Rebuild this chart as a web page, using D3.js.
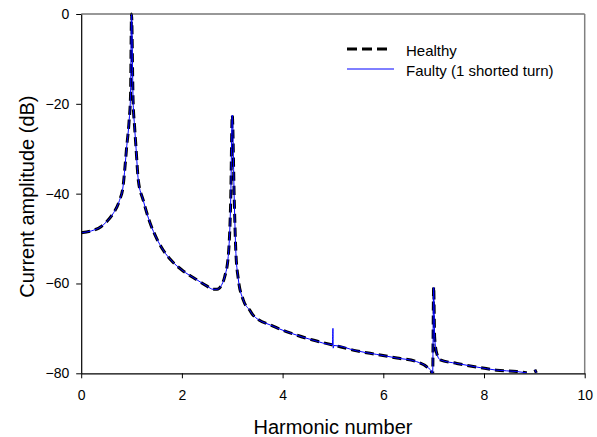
<!DOCTYPE html>
<html>
<head>
<meta charset="utf-8">
<script src="https://cdn.jsdelivr.net/npm/d3@7"></script>
<style>
  body { margin: 0; background: #fff; }
  svg { font-family: "Liberation Sans", Arial, sans-serif; }
</style>
</head>
<body>
<svg id="chart" width="597" height="437"></svg>
<script>
// harmonic number vs current amplitude (dB)
let healthyX  = [0, 0.2, 0.4, 0.5, 0.63, 0.76, 0.83, 0.87, 0.9, 0.95, 0.98, 1.0, 1.03, 1.06, 1.09, 1.134, 1.23, 1.37, 1.5, 1.63, 1.8, 2.0, 2.3, 2.5, 2.62, 2.7, 2.78, 2.85, 2.92, 2.97, 3.0, 3.04, 3.07, 3.12, 3.22, 3.35, 3.41, 3.81, 4.2, 4.6, 5.0, 5.47, 5.87, 6.27, 6.66, 6.87, 6.95, 6.98, 7.0, 7.02, 7.06, 7.13, 7.46, 7.85, 8.25, 8.65, 8.85, null, 9.01, 9.04]
let healthyDb = [-48.7, -48.3, -47.3, -46.3, -44.5, -41.5, -38.5, -34, -30, -24, -18, 0, -19, -25, -30, -37, -41.4, -46.6, -50, -52.6, -55, -57, -59.2, -60.6, -61.3, -61.3, -60.5, -58.5, -54, -41, -22.5, -41.4, -52.6, -59, -63.7, -66, -67, -69.5, -71.2, -72.6, -73.7, -75, -75.8, -76.6, -77.4, -78.6, -79.5, -80.5, -60.7, -72, -75.5, -77, -77.8, -78.6, -79.3, -79.6, -79.9, null, -79.2, -79.9]

let faultyX  = [0, 0.2, 0.4, 0.5, 0.63, 0.76, 0.83, 0.87, 0.9, 0.95, 0.98, 1.0, 1.03, 1.06, 1.09, 1.134, 1.23, 1.37, 1.5, 1.63, 1.8, 2.0, 2.3, 2.5, 2.62, 2.7, 2.78, 2.85, 2.92, 2.97, 3.0, 3.04, 3.07, 3.12, 3.22, 3.35, 3.41, 3.81, 4.2, 4.6, 4.99, 5.0, 5.005, 5.02, 5.47, 5.87, 6.27, 6.66, 6.87, 6.95, 6.98, 7.0, 7.02, 7.06, 7.13, 7.46, 7.85, 8.25, 8.65, 8.85, null, 9.01, 9.04]
let faultyDb = [-48.7, -48.3, -47.3, -46.3, -44.5, -41.5, -38.5, -34, -30, -24, -18, 0, -19, -25, -30, -37, -41.4, -46.6, -50, -52.6, -55, -57, -59.2, -60.6, -61.3, -61.3, -60.5, -58.5, -54, -41, -22.5, -41.4, -52.6, -59, -63.7, -66, -67, -69.5, -71.2, -72.6, -73.6, -70, -74.4, -73.8, -75, -75.8, -76.6, -77.4, -78.6, -79.5, -80.3, -60.9, -72, -75.5, -77, -77.8, -78.6, -79.3, -79.6, -79.9, null, -79.2, -79.9]

let xTicks = [0, 2, 4, 6, 8, 10]
let yTicks = [0, -20, -40, -60, -80]

const svg = d3.select('#chart')
let margins = {top: 14, right: 12.3, bottom: 63.7, left: 81.2}
const width = 597 - margins.left - margins.right
const height = 437 - margins.top - margins.bottom

const xScale = d3.scaleLinear().domain([0, 10]).range([0, width])
const yScale = d3.scaleLinear().domain([-80, 0]).range([height, 0])

const g = svg.append('g').attr('transform', `translate(${margins.left},${margins.top})`)

g.append('clipPath').attr('id', 'plotClip')
 .append('rect').attr('x', 0).attr('y', -2).attr('width', width).attr('height', height + 2)

function toPoints(xs, ys){
    return xs.map((x, i) => ({x: x, y: ys[i]}))
}

const line = d3.line()
    .defined(d => d.x !== null)
    .x(d => xScale(d.x))
    .y(d => yScale(d.y))
    .curve(d3.curveMonotoneX)

const curves = g.append('g').attr('clip-path', 'url(#plotClip)')

curves.append('path')
      .datum(toPoints(healthyX, healthyDb))
      .attr('d', line)
      .attr('fill', 'none')
      .attr('stroke', '#000')
      .attr('stroke-width', 3)
      .attr('stroke-dasharray', '9,5')

curves.append('path')
      .datum(toPoints(faultyX, faultyDb))
      .attr('d', line)
      .attr('fill', 'none')
      .attr('stroke', '#0000ff')
      .attr('stroke-width', 1)

// frame: top and right
g.append('line').attr('x1', 0).attr('x2', width).attr('y1', 0).attr('y2', 0)
 .attr('stroke', '#333').attr('stroke-width', 1.2)
g.append('line').attr('x1', width).attr('x2', width).attr('y1', 0).attr('y2', height)
 .attr('stroke', '#808080').attr('stroke-width', 1.5)

const xAxis = g.append('g')
    .attr('transform', `translate(0,${height})`)
    .call(d3.axisBottom(xScale).tickValues(xTicks).tickSize(5).tickPadding(12).tickSizeOuter(0))
const yAxis = g.append('g')
    .call(d3.axisLeft(yScale).tickValues(yTicks).tickSize(5).tickPadding(7).tickSizeOuter(0))

;[xAxis, yAxis].forEach(a => {
    a.select('.domain').attr('stroke', '#000').attr('stroke-width', 1.2)
    a.selectAll('.tick line').attr('stroke', '#000').attr('stroke-width', 1)
    a.selectAll('.tick text').attr('fill', '#000').style('font-size', '14px')
        .style('font-family', '"Liberation Sans", Arial, sans-serif')
})

svg.append('text')
   .attr('x', margins.left + width / 2)
   .attr('y', 434)
   .attr('text-anchor', 'middle')
   .style('font-size', '20px')
   .text('Harmonic number')

svg.append('text')
   .attr('transform', `translate(34,${margins.top + height / 2 + 3}) rotate(-90)`)
   .attr('text-anchor', 'middle')
   .style('font-size', '20px')
   .text('Current amplitude (dB)')

// legend
const legend = svg.append('g')
legend.append('line').attr('x1', 347).attr('x2', 389).attr('y1', 49).attr('y2', 49)
      .attr('stroke', '#000').attr('stroke-width', 3).attr('stroke-dasharray', '10,5')
legend.append('line').attr('x1', 347).attr('x2', 394).attr('y1', 69).attr('y2', 69)
      .attr('stroke', '#0000ff').attr('stroke-width', 1)
legend.append('text').attr('x', 406).attr('y', 56).style('font-size', '15px').text('Healthy')
legend.append('text').attr('x', 406).attr('y', 76).style('font-size', '15px').text('Faulty (1 shorted turn)')
</script>
</body>
</html>
